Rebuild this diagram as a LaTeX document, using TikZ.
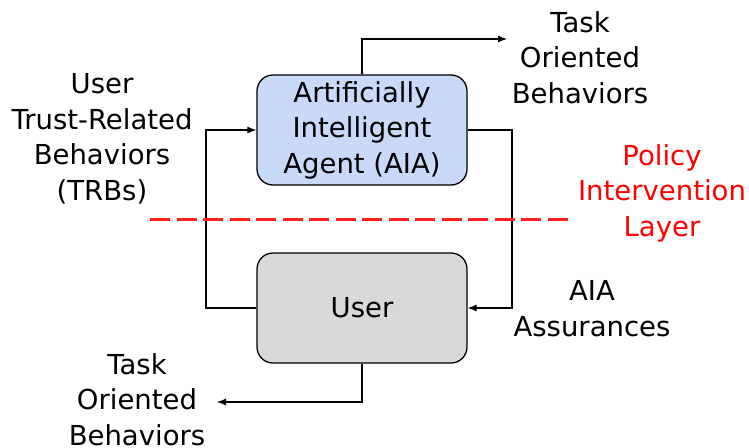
\documentclass[tikz,border=0pt]{standalone}
\usepackage{fontspec}
\setmainfont{DejaVu Sans}
\usetikzlibrary{arrows.meta}
\definecolor{aiablue}{HTML}{C9DAF8}
\definecolor{usergray}{HTML}{D9D9D9}
\definecolor{polred}{RGB}{255,30,30}
\begin{document}
\begin{tikzpicture}[x=1pt,y=-1pt,
  txt/.style={font=\fontsize{27.5}{35.5}\selectfont, align=center, inner sep=0pt},
  block/.style={draw=black, line width=1.3pt, rounded corners=16pt, minimum width=210pt, minimum height=110pt, txt},
  conn/.style={draw=black, line width=1.1pt},
  arr/.style={conn, -{Latex[length=9pt,width=7pt]}}]
\useasboundingbox (0,0) rectangle (749,447);
\node[block, fill=aiablue] (aia) at (362,130) {Artificially\\Intelligent\\Agent (AIA)};
\node[block, fill=usergray] (user) at (362,308) {User};
% labels
\node[txt] (tobtop) at (580,57.5) {Task\\Oriented\\Behaviors};
\node[txt] (trb) at (102,139) {User\\Trust-Related\\Behaviors\\(TRBs)};
\node[txt, text=red] (pil) at (662,193) {Policy\\Intervention\\Layer};
\node[txt] (assur) at (592,308.5) {AIA\\Assurances};
\node[txt] (tobbot) at (137,399.5) {Task\\Oriented\\Behaviors};
% coordinates
\coordinate (topend) at (507,39);
\coordinate (botend) at (217,402);
\coordinate (lx) at (206,0);
\coordinate (rx) at (512,0);
\coordinate (dl) at (150,219);
\coordinate (dr) at (573,219);
% connectors
\draw[arr] (aia.north) |- (topend);
\draw[arr] (user.south) |- (botend);
\draw[arr] (user.west) -- (user.west -| lx) |- (aia.west);
\draw[arr] (aia.east) -- (aia.east -| rx) |- (user.east);
% policy line
\draw[polred, line width=3pt, dash pattern=on 20pt off 6.5pt] (dl) -- (dr);
\end{tikzpicture}
\end{document}
